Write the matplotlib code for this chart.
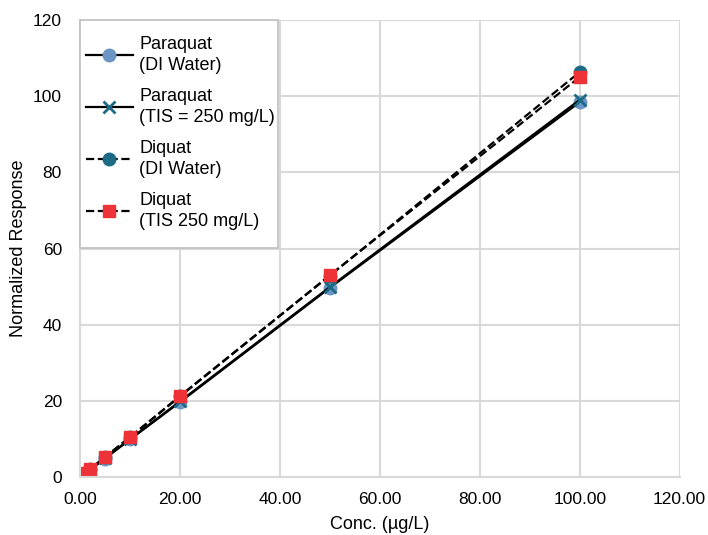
import numpy as np
import matplotlib.pyplot as plt
from matplotlib.patches import Rectangle
from matplotlib.ticker import FormatStrFormatter

plt.rcParams['font.family'] = ['Liberation Sans', 'DejaVu Sans']

# Konzentrationen (ug/L)
conc = [1, 2, 5, 10, 20, 50, 100]

# Normalisierte Antwort je Serie
paraquat_di = [1.0, 2.0, 4.9, 9.9, 19.7, 49.7, 98.4]
paraquat_tis = [1.0, 2.0, 5.0, 10.0, 19.9, 49.9, 99.0]
diquat_di = [1.1, 2.1, 5.2, 10.5, 21.2, 52.9, 106.3]
diquat_tis = [1.1, 2.1, 5.3, 10.5, 21.3, 53.0, 105.0]

labels = ["Paraquat\n(DI Water)", "Paraquat\n(TIS = 250 mg/L)",
          "Diquat\n(DI Water)", "Diquat\n(TIS 250 mg/L)"]

fig = plt.figure(figsize=(7.08, 5.35), dpi=100)
ax = fig.add_axes([0.113, 0.108, 0.847, 0.855])

ax.plot(conc, paraquat_di, '-', color='black', lw=1.6, marker='o', ms=9,
        mfc='#6b95c2', mec='#6b95c2', label=labels[0])
ax.plot(conc, paraquat_tis, '-', color='black', lw=1.6, marker='x', ms=8,
        mew=2, mec='#1c6a85', label=labels[1])
ax.plot(conc, diquat_di, '--', color='black', lw=1.6, marker='o', ms=9,
        mfc='#1c6a85', mec='#1c6a85', label=labels[2])
ax.plot(conc, diquat_tis, '--', color='black', lw=1.6, marker='s', ms=8.5,
        mfc='#ee3338', mec='#ee3338', label=labels[3])

ax.set_xlim(0, 120)
ax.set_ylim(0, 120)
ax.set_xticks(np.arange(0, 121, 20))
ax.set_yticks(np.arange(0, 121, 20))
ax.xaxis.set_major_formatter(FormatStrFormatter('%.2f'))
ax.grid(True, color='#d9d9d9', lw=1.5)
ax.set_axisbelow(True)
for side in ['top', 'right']:
    ax.spines[side].set_visible(False)
for side in ['left', 'bottom']:
    ax.spines[side].set_color('#d9d9d9')
    ax.spines[side].set_linewidth(1.5)
ax.tick_params(length=0, labelsize=12.5)
ax.tick_params(axis='x', pad=11)
ax.tick_params(axis='y', pad=13)

ax.set_xlabel("Conc. (µg/L)", fontsize=13, labelpad=6)
ax.set_ylabel("Normalized Response", fontsize=13, labelpad=4)

# Legendenrahmen separat zeichnen (mehr Innenabstand oben/unten)
box = Rectangle((0, 0.501), 0.33, 0.499, transform=ax.transAxes,
                facecolor='white', edgecolor='#bfbfbf', lw=1.2,
                zorder=4, clip_on=False)
ax.add_patch(box)

leg = ax.legend(loc='upper left', bbox_to_anchor=(0.01, 0.965),
                borderaxespad=0, borderpad=0, fontsize=13, frameon=False,
                labelspacing=0.78, handlelength=2.6, handletextpad=0.35)
leg.set_zorder(5)
for t in leg.get_texts():
    t.set_linespacing(1.3)

fig.savefig("out.png", dpi=100)
